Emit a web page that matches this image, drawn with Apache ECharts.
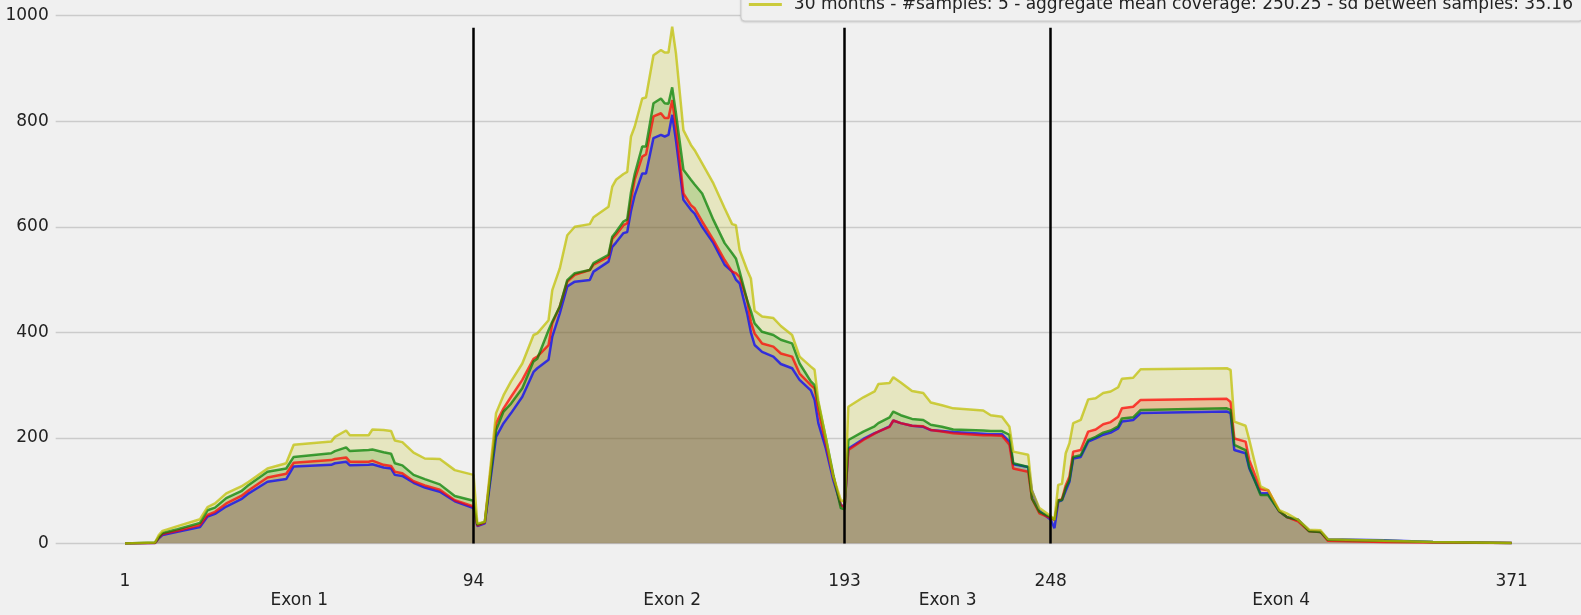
<!DOCTYPE html>
<html>
<head>
<meta charset="utf-8">
<script src="https://cdn.jsdelivr.net/npm/echarts@6/dist/echarts.min.js"></script>
<style>
  html, body { margin: 0; padding: 0; background: #f0f0f0; }
  #chart { width: 1581px; height: 615px; }
</style>
</head>
<body>
<div id="chart"></div>
<script>
// Positions along the transcript (x)
const positions = [1, 9, 10, 11, 15, 21, 23, 25, 28, 32, 34, 39, 44, 46, 56, 57, 60, 61, 66, 67, 70, 72, 73, 75, 78, 81, 85, 89, 94, 95, 97,
  100, 102, 104, 107, 110, 111, 114, 115, 117, 119, 121, 125, 126, 130, 131, 132, 134, 135, 136, 137, 139, 140, 142, 144, 145, 146, 147, 148,
  150, 152, 153, 155, 158, 161, 163, 164, 165, 167, 168, 169, 171, 174, 176, 179, 181, 184, 185, 186, 188, 190, 192, 193,
  194, 198, 201, 202, 205, 206, 208, 211, 214, 216, 219, 222, 230, 232, 235, 237, 238, 242, 243, 245, 248,
  249, 250, 251, 252, 253, 254, 256, 258, 260, 262, 264, 266, 267, 270, 272, 295, 296, 297, 300, 301, 304, 306, 309, 311, 314, 317, 320, 322, 337, 350, 371];

const blue = [0, 1, 10, 16, 22, 31, 51, 56, 70, 84, 95, 117, 122, 146, 149, 152, 155, 148, 149, 150, 144, 142, 130, 128, 115, 106, 98, 80, 67, 33, 38,
  202, 228, 247, 278, 325, 332, 348, 392, 436, 487, 496, 499, 515, 534, 562, 570, 588, 590, 630, 660, 701, 701, 768, 774, 771, 774, 812, 764,
  651, 632, 625, 600, 569, 528, 515, 500, 493, 436, 400, 376, 363, 354, 340, 332, 310, 290, 272, 228, 180, 120, 73, 70,
  180, 198, 209, 212, 222, 233, 228, 223, 221, 215, 213, 211, 208, 207, 207, 193, 150, 145, 100, 62, 45,
  29, 79, 82, 100, 117, 161, 164, 193, 199, 206, 210, 218, 231, 234, 247, 250, 247, 177, 171, 142, 95, 95, 61, 50, 45, 24, 22, 8, 6, 3, 1];

const red = [0, 1, 11, 18, 24, 35, 54, 60, 76, 90, 101, 125, 132, 153, 158, 160, 163, 155, 155, 157, 149, 147, 136, 133, 118, 110, 102, 82, 70, 34, 40,
  228, 256, 278, 310, 350, 354, 376, 417, 449, 496, 509, 518, 528, 543, 577, 585, 603, 607, 650, 690, 733, 737, 809, 815, 806, 806, 840, 790,
  663, 641, 635, 610, 575, 537, 515, 512, 505, 461, 420, 398, 379, 373, 360, 354, 322, 300, 294, 253, 190, 127, 73, 68,
  177, 196, 208, 212, 221, 233, 228, 223, 222, 215, 212, 209, 205, 205, 204, 187, 142, 136, 85, 57, 48,
  45, 82, 84, 110, 127, 174, 177, 212, 216, 226, 230, 240, 256, 259, 272, 274, 268, 199, 193, 158, 103, 101, 61, 50, 42, 23, 22, 5, 3, 2, 1];

const green = [0, 2, 12, 20, 27, 39, 63, 68, 86, 99, 111, 136, 142, 164, 171, 175, 182, 175, 177, 178, 173, 170, 152, 148, 130, 122, 112, 90, 81, 36, 41,
  215, 250, 265, 294, 345, 350, 404, 420, 449, 499, 512, 518, 531, 547, 581, 590, 610, 614, 665, 700, 752, 752, 834, 843, 834, 833, 864, 815,
  708, 689, 680, 663, 613, 569, 550, 540, 515, 461, 440, 417, 401, 395, 386, 379, 341, 307, 300, 266, 200, 130, 67, 65,
  196, 212, 222, 228, 239, 250, 243, 236, 234, 225, 221, 216, 214, 213, 213, 206, 152, 145, 85, 60, 50,
  45, 82, 82, 105, 120, 164, 167, 196, 202, 210, 214, 222, 237, 239, 253, 256, 253, 187, 177, 145, 92, 92, 61, 50, 45, 23, 22, 7, 5, 3, 1];

const yellow = [0, 2, 16, 24, 33, 46, 69, 76, 95, 108, 117, 142, 152, 187, 193, 202, 214, 205, 205, 216, 215, 213, 195, 192, 172, 161, 160, 139, 130, 38, 41,
  247, 281, 307, 341, 395, 398, 423, 480, 521, 584, 600, 605, 618, 638, 676, 689, 700, 704, 771, 790, 843, 845, 925, 935, 930, 930, 979, 929,
  783, 755, 745, 720, 682, 635, 605, 603, 556, 518, 502, 441, 430, 427, 412, 395, 354, 335, 329, 270, 200, 127, 82, 80,
  259, 277, 288, 302, 304, 315, 305, 289, 285, 267, 262, 256, 252, 243, 240, 221, 174, 168, 100, 67, 52,
  45, 111, 113, 171, 190, 228, 234, 273, 275, 285, 288, 296, 312, 314, 330, 332, 329, 231, 223, 196, 108, 101, 63, 57, 45, 26, 25, 8, 5, 3, 1];

const seriesNames = ['Group 1', 'Group 2', 'Group 3', '30 months - #samples: 5 - aggregate mean coverage: 250.25 - sd between samples: 35.16'];
const seriesColors = ['#0000ff', '#ff0000', '#008000', '#bfbf00'];
const exonBoundaries = [1, 94, 193, 248, 371];
const exonDividers = [94, 193, 248];
const dividerTop = 977;
const exonNames = ['Exon 1', 'Exon 2', 'Exon 3', 'Exon 4'];
const exonLabelPos = [47.5, 147, 220.5, 309.5];

const allValues = [blue, red, green, yellow];
const FONT = 'DejaVu Sans';

// fills first (all), then lines on top
const areaSeries = allValues.map((vals, k) => ({
  type: 'line',
  name: seriesNames[k] + ' fill',
  data: positions.map((p, i) => [p, vals[i]]),
  showSymbol: false,
  symbol: 'none',
  color: seriesColors[k],
  lineStyle: { width: 0, opacity: 0 },
  areaStyle: { color: seriesColors[k], opacity: 0.2 },
  z: 2,
  silent: true,
  animation: false
}));

const lineSeries = allValues.map((vals, k) => ({
  type: 'line',
  name: seriesNames[k],
  data: positions.map((p, i) => [p, vals[i]]),
  showSymbol: false,
  symbol: 'none',
  color: seriesColors[k],
  lineStyle: { width: 2.5, color: seriesColors[k], opacity: 0.72 },
  z: 3,
  silent: true,
  animation: false
}));

lineSeries[3].markLine = {
  silent: true,
  symbol: 'none',
  label: { show: false },
  lineStyle: { color: '#000000', width: 2.5, type: 'solid', opacity: 1 },
  data: exonDividers.map(x => [{ coord: [x, 0] }, { coord: [x, dividerTop] }]),
  animation: false
};

const chart = echarts.init(document.getElementById('chart'), null, { renderer: 'canvas' });
chart.setOption({
  backgroundColor: '#f0f0f0',
  animation: false,
  textStyle: { fontFamily: FONT },
  grid: { left: 55.7, right: 0, top: 15.6, bottom: 71.5, containLabel: false },
  legend: {
    data: [seriesNames[3]],
    right: -2,
    top: -9,
    icon: 'rect',
    itemWidth: 33,
    itemHeight: 3,
    padding: [5, 10, 8, 8],
    backgroundColor: '#f0f0f0',
    borderColor: '#cccccc',
    borderWidth: 1,
    borderRadius: 4,
    shadowColor: 'rgba(0,0,0,0.12)',
    shadowBlur: 2,
    shadowOffsetY: 1,
    itemStyle: { opacity: 0.75 },
    textStyle: { fontFamily: FONT, fontSize: 17, color: '#222222', padding: [0, 0, 0, 7] }
  },
  xAxis: [
    {
      type: 'value',
      min: -17.5,
      max: 389.5,
      axisLine: { show: false },
      axisTick: { show: false },
      splitLine: { show: false },
      axisLabel: {
        customValues: exonBoundaries,
        margin: 30,
        fontFamily: FONT,
        fontSize: 17,
        color: '#222222'
      }
    },
    {
      type: 'value',
      position: 'bottom',
      min: -17.5,
      max: 389.5,
      axisLine: { show: false },
      axisTick: { show: false },
      splitLine: { show: false },
      axisLabel: {
        customValues: exonLabelPos,
        margin: 49,
        fontFamily: FONT,
        fontSize: 17,
        color: '#222222',
        formatter: (v) => exonNames[exonLabelPos.indexOf(v)]
      }
    }
  ],
  yAxis: {
    type: 'value',
    min: 0,
    max: 1000,
    interval: 200,
    axisLine: { show: false },
    axisTick: { show: false },
    splitLine: { show: true, lineStyle: { color: '#cbcbcb', width: 1.3 } },
    axisLabel: { margin: 7, fontFamily: FONT, fontSize: 17, color: '#222222', formatter: (v) => String(v) }
  },
  series: areaSeries.concat(lineSeries)
});
</script>
</body>
</html>
